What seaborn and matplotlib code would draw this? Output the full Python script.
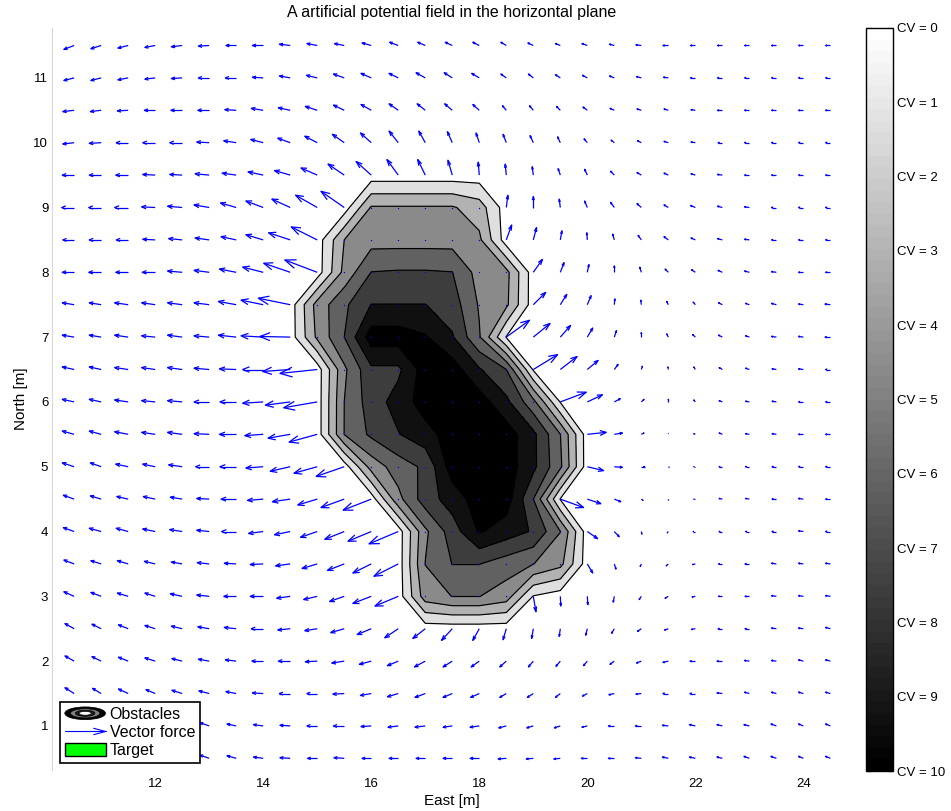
import numpy as np
import matplotlib
matplotlib.use("Agg")
import matplotlib.pyplot as plt
import seaborn as sns
from matplotlib.collections import LineCollection
from matplotlib.colors import Normalize
from matplotlib.cm import ScalarMappable
from matplotlib.legend_handler import HandlerBase
from matplotlib.patches import Ellipse, Patch
from matplotlib.lines import Line2D

sns.set_theme(style="white", rc={"text.color": "black", "axes.labelcolor": "black",
                                 "xtick.color": "black", "ytick.color": "black"})
plt.rcParams["font.family"] = ["Liberation Sans", "DejaVu Sans"]

# ---- force field on a 0.5 m grid (rows run north 11.5 -> 0.5) ----
east_m = np.arange(10.5, 24.51, 0.5)
north_m = np.arange(11.5, 0.49, -0.5)

force_east = [
    [-.19,-.19,-.19,-.19,-.20,-.20,-.19,-.20,-.20,-.19,-.18,-.17,-.16,-.14,-.13,-.12,-.10,-.10,-.09,-.10,-.09,-.10,-.10,-.09,-.09,-.09,-.09,-.09,-.09],
    [-.19,-.19,-.19,-.19,-.20,-.20,-.20,-.20,-.20,-.20,-.20,-.19,-.17,-.17,-.15,-.14,-.10,-.09,-.09,-.09,-.09,-.09,-.09,-.09,-.09,-.09,-.09,-.09,-.09],
    [-.21,-.20,-.20,-.20,-.21,-.21,-.21,-.22,-.22,-.22,-.20,-.19,-.17,-.15,-.14,-.12,-.07,-.07,-.07,-.08,-.08,-.08,-.08,-.08,-.09,-.09,-.09,-.09,-.09],
    [-.21,-.22,-.22,-.23,-.23,-.23,-.23,-.23,-.23,-.23,-.22,-.20,-.17,-.12,-.09,-.06,-.06,-.06,-.05,-.06,-.06,-.07,-.08,-.08,-.08,-.09,-.09,-.09,-.09],
    [-.22,-.22,-.23,-.23,-.23,-.26,-.26,-.28,-.29,-.30,-.30,-.28,-.21,-.14,-.08,-.02,-.02,-.02,-.04,-.05,-.07,-.08,-.08,-.08,-.09,-.09,-.09,-.09,-.09],
    [-.23,-.23,-.25,-.25,-.27,-.28,-.29,-.32,-.34,-.40,-.43,0,0,0,0,0,.03,0,-.02,-.05,-.07,-.08,-.08,-.09,-.09,-.09,-.09,-.09,-.09],
    [-.21,-.22,-.22,-.23,-.25,-.26,-.28,-.32,-.40,-.48,0,0,0,0,0,0,.10,.06,.03,-.01,-.03,-.06,-.08,-.08,-.09,-.09,-.09,-.09,-.09],
    [-.22,-.23,-.23,-.24,-.27,-.28,-.31,-.38,-.49,-.60,0,0,0,0,0,0,0,.17,.07,.03,0,-.03,-.06,-.07,-.08,-.09,-.09,-.09,-.09],
    [-.22,-.22,-.25,-.25,-.27,-.28,-.33,-.41,-.59,0,0,0,0,0,0,0,0,.23,.12,.07,.01,-.01,-.03,-.04,-.07,-.07,-.09,-.09,-.10],
    [-.22,-.22,-.25,-.25,-.27,-.28,-.33,-.41,-.56,0,0,0,0,0,0,0,.43,.31,.19,.10,.04,0,-.03,-.05,-.07,-.07,-.09,-.09,-.10],
    [-.22,-.22,-.25,-.25,-.27,-.28,-.31,-.38,-.51,-.69,0,0,0,0,0,0,0,.45,.31,.20,.07,.02,-.01,-.03,-.06,-.07,-.08,-.09,-.09],
    [-.22,-.22,-.25,-.25,-.27,-.28,-.30,-.38,-.46,-.62,0,0,0,0,0,0,0,0,.48,.28,.11,.05,0,-.03,-.06,-.07,-.08,-.09,-.09],
    [-.22,-.22,-.25,-.25,-.27,-.28,-.31,-.34,-.41,-.52,0,0,0,0,0,0,0,0,0,.35,.15,.05,0,-.03,-.06,-.07,-.08,-.09,-.09],
    [-.22,-.20,-.23,-.23,-.25,-.25,-.30,-.32,-.37,-.43,-.52,0,0,0,0,0,0,0,0,.30,.15,.06,.01,-.03,-.06,-.07,-.08,-.09,-.09],
    [-.20,-.20,-.21,-.22,-.22,-.23,-.28,-.29,-.33,-.36,-.43,-.52,0,0,0,0,0,0,.43,.25,.12,.03,0,-.03,-.06,-.07,-.08,-.09,-.09],
    [-.20,-.22,-.22,-.23,-.23,-.23,-.27,-.27,-.29,-.31,-.36,-.43,-.54,0,0,0,0,0,0,.19,.09,.01,-.02,-.04,-.06,-.07,-.08,-.09,-.09],
    [-.19,-.19,-.20,-.20,-.20,-.22,-.22,-.24,-.27,-.28,-.31,-.34,-.45,0,0,0,0,0,0,.10,.03,-.02,-.04,-.05,-.07,-.08,-.09,-.09,-.09],
    [-.19,-.19,-.20,-.19,-.22,-.23,-.23,-.24,-.25,-.25,-.27,-.34,-.43,0,0,0,0,.05,.01,.01,-.02,-.04,-.06,-.06,-.07,-.08,-.09,-.09,-.09],
    [-.17,-.17,-.18,-.19,-.20,-.21,-.22,-.22,-.23,-.23,-.25,-.26,-.25,-.23,-.20,-.12,-.06,-.03,-.02,-.03,-.05,-.07,-.07,-.07,-.08,-.08,-.09,-.09,-.09],
    [-.17,-.17,-.18,-.19,-.19,-.20,-.20,-.21,-.22,-.22,-.23,-.22,-.20,-.20,-.17,-.15,-.12,-.09,-.08,-.07,-.08,-.09,-.10,-.10,-.10,-.09,-.09,-.09,-.09],
    [-.17,-.16,-.18,-.17,-.19,-.19,-.19,-.20,-.20,-.19,-.21,-.20,-.20,-.19,-.17,-.16,-.12,-.11,-.09,-.09,-.10,-.10,-.10,-.10,-.10,-.09,-.09,-.09,-.09],
    [-.16,-.16,-.16,-.16,-.17,-.17,-.17,-.18,-.19,-.19,-.20,-.19,-.19,-.19,-.17,-.17,-.14,-.12,-.11,-.10,-.11,-.11,-.11,-.11,-.10,-.10,-.10,-.09,-.09],
    [-.15,-.15,-.16,-.16,-.17,-.17,-.17,-.18,-.19,-.18,-.19,-.17,-.17,-.17,-.17,-.17,-.15,-.13,-.12,-.11,-.11,-.11,-.11,-.11,-.10,-.10,-.10,-.09,-.09],
]

force_north = [
    [-.06,-.05,-.04,-.03,-.02,-.01,0,0,.02,.03,.03,.04,.05,.05,.05,.05,.05,.04,.03,.03,.02,.01,0,0,0,0,0,0,0],
    [-.04,-.04,-.03,-.02,-.01,0,0,.01,.03,.04,.06,.07,.07,.08,.08,.07,.06,.06,.05,.04,.03,.02,.01,0,0,0,0,0,0],
    [-.02,-.02,-.01,0,0,0,.01,.03,.04,.06,.08,.09,.10,.10,.10,.09,.07,.07,.06,.05,.03,.02,.02,.01,0,0,0,0,0],
    [-.02,-.01,0,0,0,.01,.03,.05,.07,.10,.13,.15,.18,.18,.17,.15,.13,.11,.09,.06,.04,.03,.02,.01,0,0,0,0,0],
    [0,0,0,.01,.01,.02,.03,.05,.07,.11,.17,.21,.24,.24,.23,.20,.17,.13,.10,.09,.06,.04,.03,.02,.01,0,0,0,0],
    [0,0,0,.01,.02,.04,.07,.10,.13,.19,.25,0,0,0,0,0,.19,.17,.13,.10,.08,.06,.04,.03,.02,.01,0,0,0],
    [0,0,0,.01,.02,.03,.05,.08,.11,.20,0,0,0,0,0,0,.23,.19,.14,.11,.09,.07,.05,.03,.02,.01,0,0,0],
    [0,0,0,0,.02,.03,.05,.08,.14,.19,0,0,0,0,0,0,0,.20,.15,.12,.10,.08,.05,.04,.03,.02,.01,0,0],
    [.03,.03,.03,.03,.03,.03,.05,.07,.10,0,0,0,0,0,0,0,0,.19,.16,.14,.09,.07,.05,.04,.03,.02,.02,.01,.01],
    [.03,.03,.03,.02,.03,.02,.03,.02,.01,0,0,0,0,0,0,0,.26,.21,.18,.14,.10,.07,.05,.04,.03,.02,.01,.01,0],
    [.04,.04,.03,.03,.03,.02,.01,0,-.03,-.06,0,0,0,0,0,0,0,.23,.20,.14,.08,.05,.04,.04,.03,.02,.01,.01,0],
    [.04,.04,.03,.02,.02,0,0,-.02,-.05,-.09,0,0,0,0,0,0,0,0,.15,.11,.05,.04,.04,.03,.02,.01,.01,0,0],
    [.05,.05,.04,.03,.03,.01,0,-.02,-.06,-.12,0,0,0,0,0,0,0,0,0,.03,.02,.02,.01,.01,.02,.01,.01,0,0],
    [.06,.06,.04,.04,.03,0,0,-.02,-.07,-.10,-.15,0,0,0,0,0,0,0,0,-.06,-.01,0,0,0,0,0,0,0,0],
    [.06,.05,.04,.04,.03,.01,0,-.02,-.04,-.09,-.13,-.17,0,0,0,0,0,0,-.13,-.07,-.04,-.02,-.01,0,.01,.01,0,.01,0],
    [.06,.05,.05,.04,.03,.02,0,-.03,-.05,-.09,-.12,-.15,-.19,0,0,0,0,0,0,-.11,-.08,-.04,-.02,0,0,0,0,.01,0],
    [.06,.05,.05,.04,.03,.02,.01,-.01,-.03,-.07,-.10,-.14,-.19,0,0,0,0,0,0,-.14,-.08,-.04,-.03,-.01,0,0,.01,.01,.01],
    [.07,.06,.05,.05,.04,.02,0,0,-.03,-.05,-.08,-.11,-.15,0,0,0,0,-.24,-.15,-.13,-.09,-.05,-.03,-.01,0,0,.01,.01,.01],
    [.08,.07,.06,.05,.04,.03,.02,0,-.02,-.03,-.06,-.09,-.14,-.15,-.18,-.18,-.17,-.15,-.12,-.10,-.07,-.04,-.02,-.01,0,0,.01,.01,.02],
    [.08,.07,.06,.05,.04,.03,.02,0,0,-.01,-.03,-.05,-.07,-.09,-.09,-.09,-.09,-.09,-.08,-.07,-.05,-.03,-.02,0,0,.01,.01,.02,.02],
    [.09,.08,.07,.06,.05,.04,.03,.01,0,0,-.01,-.03,-.05,-.06,-.06,-.06,-.06,-.06,-.06,-.04,-.02,-.01,0,0,.01,.02,.02,.02,.02],
    [.10,.09,.08,.07,.06,.05,.03,.02,.01,0,0,-.01,-.02,-.02,-.02,-.02,-.03,-.03,-.03,-.02,0,0,.01,.02,.02,.02,.03,.03,.03],
    [.10,.09,.08,.07,.06,.05,.04,.02,.01,0,.01,0,0,0,0,0,-.01,-.01,-.01,0,0,.01,.02,.02,.02,.03,.03,.03,.03],
]

# ---- obstacle potential on its own 0.5 m patch (rows run north 9.5 -> 2.5) ----
obstacle_east = np.arange(14.5, 20.51, 0.5)
obstacle_north = np.arange(9.5, 2.49, -0.5)
obstacle_potential = [
    [0, 0, 0, 0, 0, 0, 0, 0, 0, 0, 0, 0, 0],
    [0, 0, 0, 2.6, 2.6, 2.6, 2.6, 2.0, 0, 0, 0, 0, 0],
    [0, 0, 2.5, 3.1, 3.1, 3.1, 3.1, 2.7, 0, 0, 0, 0, 0],
    [0, 0, 2.8, 4.52, 4.6, 4.6, 4.52, 3.1, 2.8, 0, 0, 0, 0],
    [0, 2.9, 4.3, 5.52, 5.52, 5.52, 5.0, 3.4, 2.7, 0, 0, 0, 0],
    [0, 2.7, 4.5, 7.0, 7.0, 6.6, 5.6, 3.6, 0.45, 0, 0, 0, 0],
    [0, 0, 3.3, 5.3, 5.3, 7.0, 7.0, 5.6, 4.5, 0.4, 0, 0, 0],
    [0, 0, 3.5, 5.0, 5.9, 7.0, 7.0, 7.0, 5.75, 3.8, 0.45, 0, 0],
    [0, 0, 3.52, 4.7, 5.45, 6.1, 7.0, 7.0, 7.0, 5.75, 3.52, 0, 0],
    [0, 0, 0, 2.9, 4.0, 4.7, 7.0, 7.0, 7.0, 5.75, 3.7, 0, 0],
    [0, 0, 0, 0, 3.2, 5.0, 5.96, 7.0, 7.0, 4.52, 0.45, 0, 0],
    [0, 0, 0, 0, 0, 3.3, 5.0, 6.6, 6.0, 5.4, 3.52, 0, 0],
    [0, 0, 0, 0, 0, 3.52, 4.52, 4.52, 4.0, 3.52, 2.8, 0, 0],
    [0, 0, 0, 0, 0, 3.0, 3.52, 3.52, 3.0, 0.45, 0, 0, 0],
    [0, 0, 0, 0, 0, 0, 0, 0, 0, 0, 0, 0, 0],
]
obstacle_levels = [0.5, 1.5, 2.5, 3.5, 4.5, 5.5, 6.5, 8.0]
band_cv = [1.4, 3.0, 4.6, 6.1, 7.6, 9.3, 10.0]
cv_ticks = list(range(0, 11))

legend_labels = ["Obstacles", "Vector force", "Target"]

cmap = plt.get_cmap("gray_r", 64)
norm = Normalize(0, 10)
band_colors = [cmap(norm(v)) for v in band_cv]

fig = plt.figure(figsize=(9.51, 8.11), dpi=100)
ax = fig.add_axes([52 / 951, 41 / 811, 800 / 951, 742 / 811])

# filled potential bands with their outlines
OE, ON = np.meshgrid(obstacle_east, obstacle_north[::-1])
OZ = np.array(obstacle_potential)[::-1]
ax.contourf(OE, ON, OZ, levels=obstacle_levels, colors=band_colors, zorder=1)
ax.contour(OE, ON, OZ, levels=obstacle_levels[:-1], colors="black", linewidths=0.85, zorder=2)

# line arrows: shaft plus two barbs at a third of the vector length
E, N = np.meshgrid(east_m, north_m)
U = np.array(force_east)
V = np.array(force_north)
head, spread = 0.33, 0.33
moving = (U != 0) | (V != 0)
x0, y0, u, v = E[moving], N[moving], U[moving], V[moving]
tx, ty = x0 + u, y0 + v
shafts = np.stack([np.column_stack([x0, y0]), np.column_stack([tx, ty])], axis=1)
barbs = np.stack([
    np.column_stack([tx - head * (u + spread * v), ty - head * (v - spread * u)]),
    np.column_stack([tx, ty]),
    np.column_stack([tx - head * (u - spread * v), ty - head * (v + spread * u)]),
], axis=1)
ax.add_collection(LineCollection(list(shafts) + list(barbs), colors="#0000ff",
                                 linewidths=0.9, zorder=3))
ax.scatter(E[~moving], N[~moving], s=1.0, color="#0000ff", linewidths=0, zorder=3)

ax.set_xlim(10.09, 24.9)
ax.set_ylim(0.32, 11.77)
ax.set_xticks(range(12, 25, 2))
ax.set_yticks(range(1, 12))
ax.tick_params(length=0, labelsize=9.5)
ax.tick_params(axis="x", pad=6)
ax.tick_params(axis="y", pad=2.7)
for side in ("top", "right", "bottom"):
    ax.spines[side].set_visible(False)
ax.spines["left"].set_color("#d8d8d8")
ax.spines["left"].set_linewidth(0.8)

ax.set_title("A artificial potential field in the horizontal plane", fontsize=11.5, pad=8)
ax.set_xlabel("East [m]", fontsize=11, labelpad=3)
ax.set_ylabel("North [m]", fontsize=11, labelpad=4)


class ObstacleKey:
    pass


class ForceKey:
    pass


class HandlerObstacle(HandlerBase):
    def create_artists(self, legend, orig_handle, xdescent, ydescent, width, height, fontsize, trans):
        cx, cy = width / 2 - xdescent, height / 2 - ydescent
        rings = [(1.0, "black"), (0.72, "#808080"), (0.48, "#1a1a1a"), (0.3, "white")]
        return [Ellipse((cx, cy), width * f, height * f, facecolor=c, edgecolor="black",
                        linewidth=0.5, transform=trans) for f, c in rings]


class HandlerForce(HandlerBase):
    def create_artists(self, legend, orig_handle, xdescent, ydescent, width, height, fontsize, trans):
        y = height / 2 - ydescent
        x_start, x_end = -xdescent, width - xdescent
        hl, hw = 0.29 * width, 0.25 * height
        shaft = Line2D([x_start, x_end], [y, y], color="#0000ff", linewidth=0.8, transform=trans)
        tip = Line2D([x_end - hl, x_end, x_end - hl], [y + hw, y, y - hw], color="#0000ff",
                     linewidth=0.8, transform=trans)
        return [shaft, tip]


leg = ax.legend([ObstacleKey(), ForceKey(), Patch(facecolor="#00ff00", edgecolor="black")],
                legend_labels,
                handler_map={ObstacleKey: HandlerObstacle(), ForceKey: HandlerForce()},
                loc="lower left", bbox_to_anchor=(8 / 800, 7 / 742), borderaxespad=0,
                frameon=True, fancybox=False, framealpha=1, edgecolor="black",
                fontsize=11.5, handlelength=2.55, handleheight=0.85, handletextpad=0.25,
                labelspacing=0.2, borderpad=0.3)
leg.get_frame().set_linewidth(1.2)
leg.set_zorder(5)

# colour bar: 0 at the top, 10 at the bottom
cax = fig.add_axes([866 / 951, 40 / 811, 27 / 951, 743 / 811])
cb = fig.colorbar(ScalarMappable(norm=norm, cmap=cmap), cax=cax, ticks=cv_ticks)
cax.invert_yaxis()
cb.set_ticklabels([f"CV = {t}" for t in cv_ticks])
cax.minorticks_off()
cax.tick_params(axis="y", direction="in", left=True, right=True, length=3.5, width=0.9,
                color="#333333", labelsize=9.5, pad=3)
cb.outline.set_edgecolor("black")
cb.outline.set_linewidth(1.0)

fig.savefig("out.png", dpi=100)
